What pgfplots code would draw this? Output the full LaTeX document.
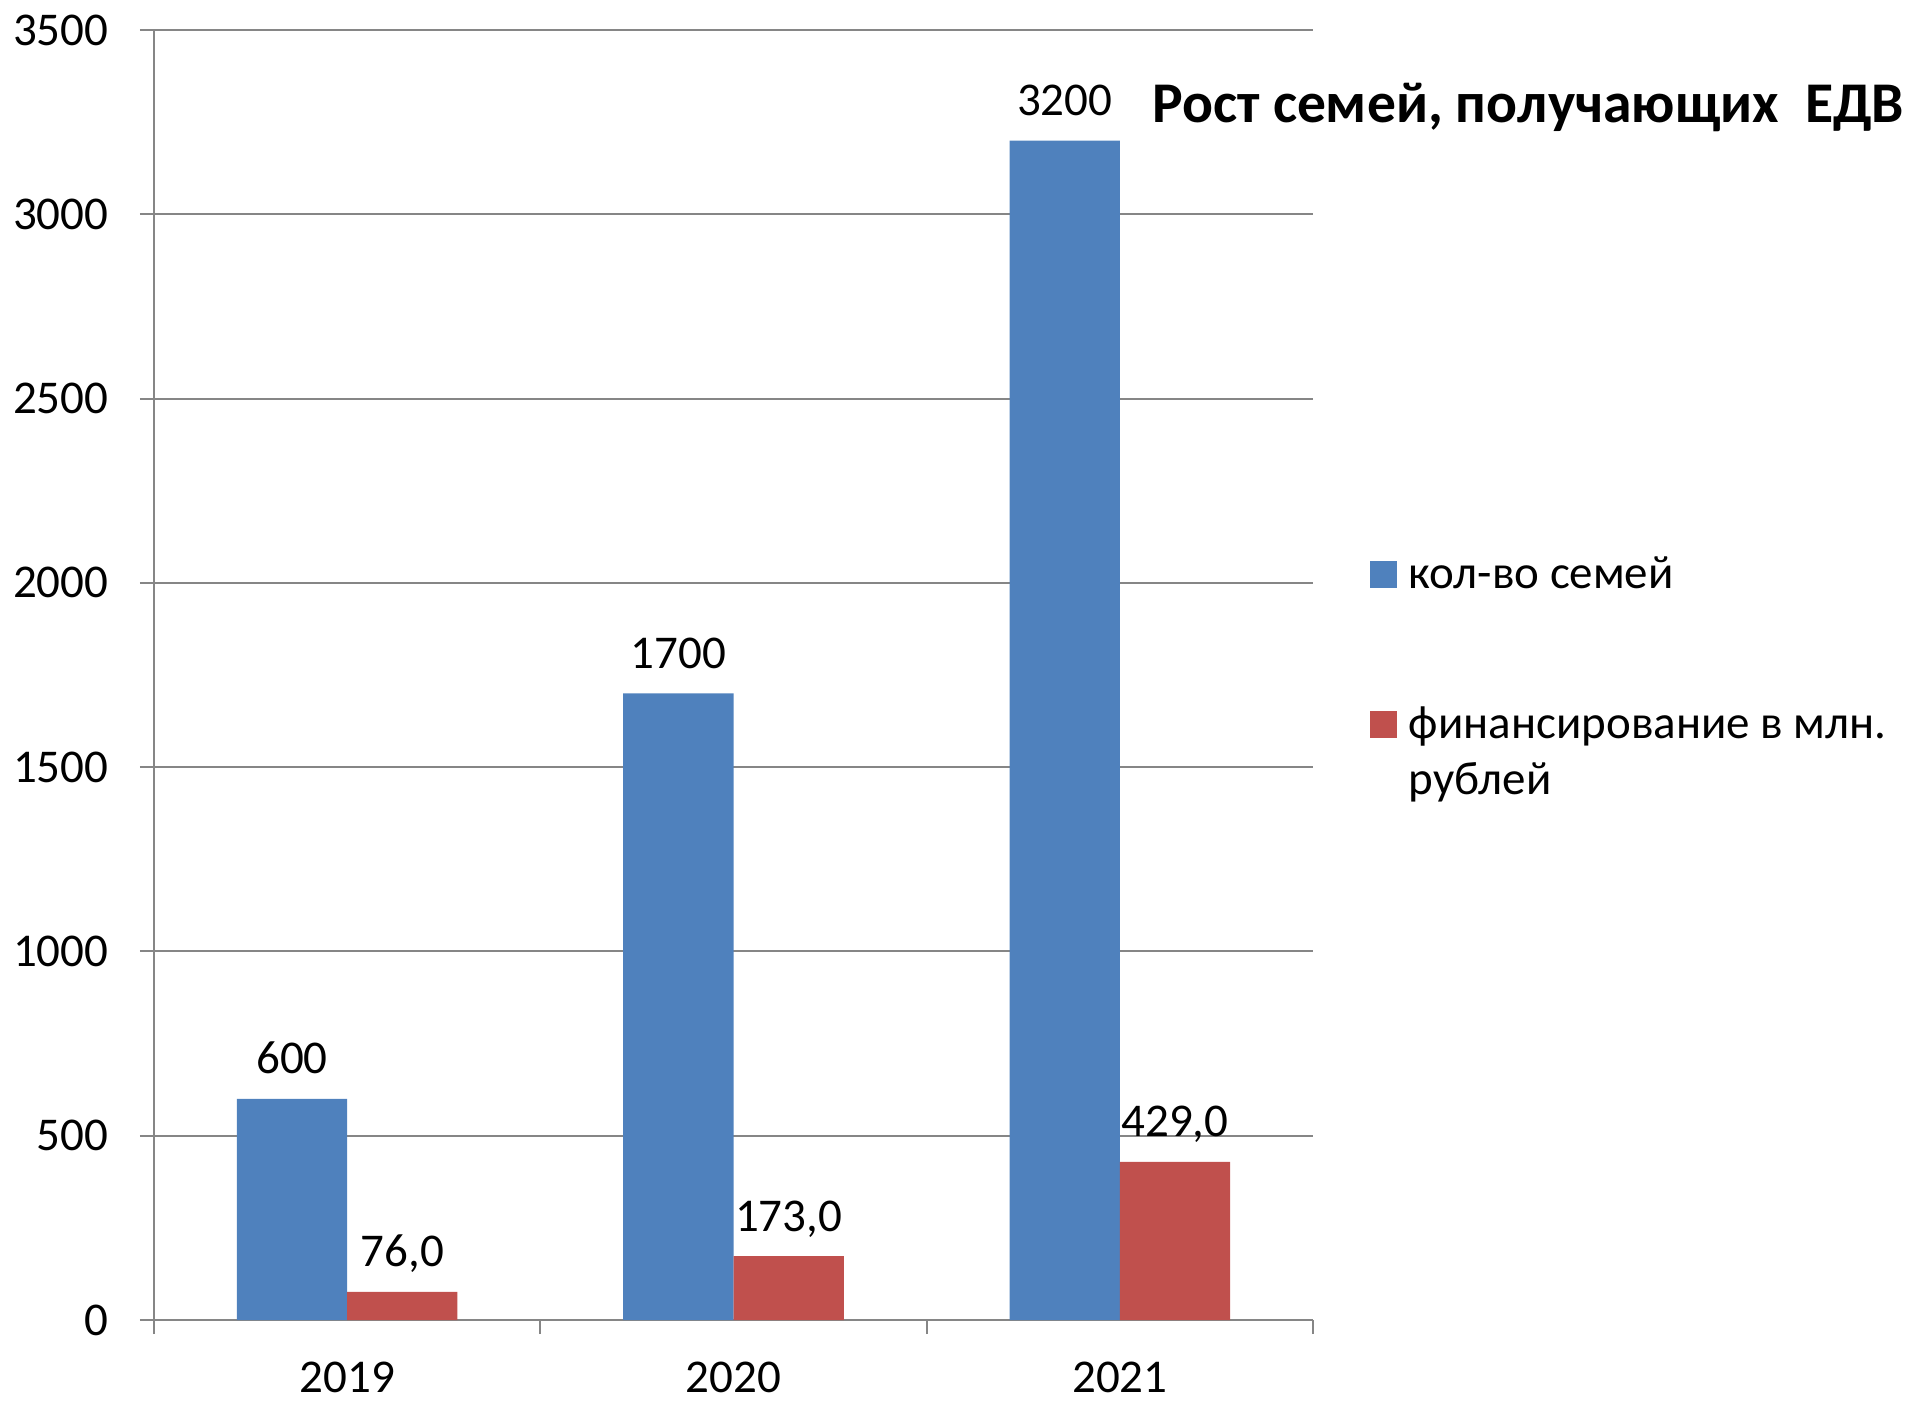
\documentclass[border=0pt]{standalone}
\usepackage{pgfplots}
\pgfplotsset{compat=1.18}
\usepackage{fontspec}
\setmainfont{Carlito}
\definecolor{cblue}{HTML}{4F81BD}
\definecolor{cred}{HTML}{C0504D}
\definecolor{cgrid}{HTML}{868686}
\pgfkeys{/pgf/number format/1000 sep={}}
\newcommand{\lblfont}{\fontsize{23.5}{28}\selectfont}
\begin{document}
\begin{tikzpicture}
\useasboundingbox (0,0) rectangle (964pt,702pt);
\begin{axis}[
  at={(77pt,42pt)}, anchor=south west,
  width=579.5pt, height=645pt, scale only axis,
  xmin=-0.5, xmax=2.5, ymin=0, ymax=3500,
  axis x line*=bottom, axis y line*=left,
  ytick={0,500,...,3500},
  ymajorgrids, grid style={cgrid, line width=1pt},
  axis line style={cgrid, line width=1pt},
  tick style={cgrid, line width=1pt},
  tick align=outside, major tick length=7pt,
  xtick={-0.5,0.5,1.5,2.5}, xticklabels={},
  extra x ticks={0,1,2}, extra x tick labels={2019,2020,2021},
  extra x tick style={major tick length=0pt},
  ticklabel style={font=\lblfont},
  /pgf/number format/assume math mode=true,
  xticklabel style={anchor=base, inner sep=0pt, yshift=-36pt},
  yticklabel style={xshift=-12.3pt},
  ybar=0pt, bar width=55.15pt,
  every node near coord/.append style={font=\lblfont, anchor=base, yshift=12.5pt, black},
  legend image code/.code={\fill[#1] (0pt,0pt) rectangle (13.5pt,13.5pt);},
  legend style={at={(1.049,0.592)}, anchor=north west, draw=none, fill=none,
    inner sep=0pt, outer sep=0pt, column sep=6pt, row sep=54pt,
    nodes={inner sep=0pt, anchor=base west, font=\lblfont}},
  legend cell align=left,
]
\addplot+[fill=cblue, draw=none, nodes near coords] coordinates {(0,600) (1,1700) (2,3200)};
\addlegendentry{кол-во семей}
\addplot+[fill=cred, draw=none, nodes near coords={\pgfmathprintnumber[fixed,fixed zerofill,precision=1,use comma]{\pgfplotspointmeta}}] coordinates {(0,76) (1,173) (2,429)};
\addlegendentry{\begin{tabular}[t]{@{}l@{}}финансирование в млн.\\рублей\end{tabular}}
\end{axis}
\node[anchor=base west, font=\bfseries\fontsize{28.8}{34}\selectfont] at (572.8pt,640.5pt) {Рост семей, получающих\ \ ЕДВ};
\end{tikzpicture}
\end{document}
